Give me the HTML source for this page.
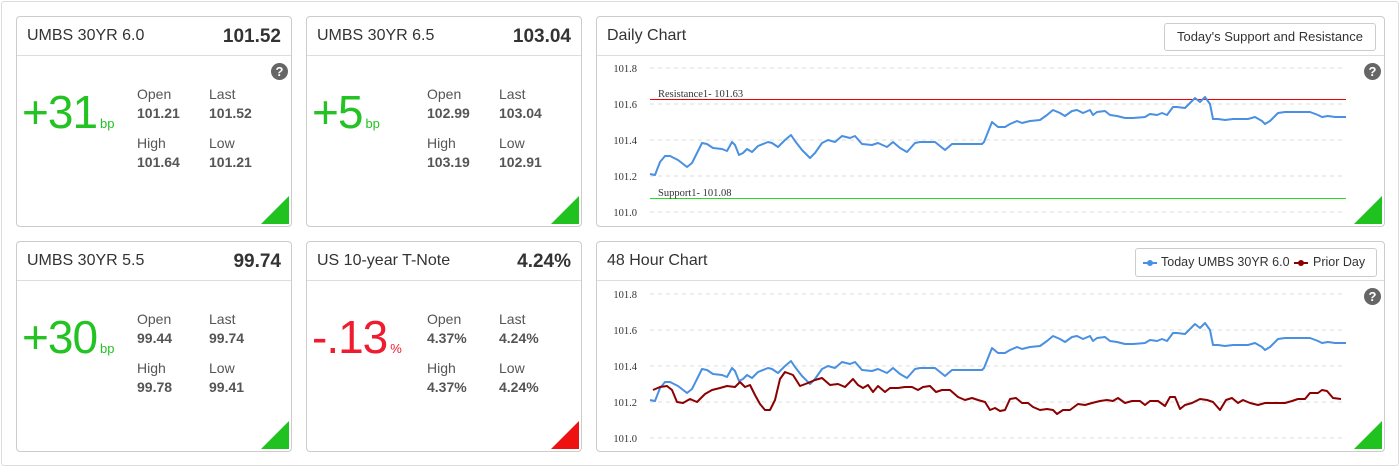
<!DOCTYPE html>
<html><head><meta charset="utf-8"><style>
body{margin:0;width:1400px;height:467px;background:#fff;font-family:"Liberation Sans",sans-serif;position:relative;overflow:hidden}
.outer{position:absolute;left:1px;top:1px;width:1396px;height:463px;border:1px solid #ddd;border-radius:3px}
.card{position:absolute;border:1px solid #ccc;border-radius:4px;background:#fff;overflow:hidden}
.hd{position:absolute;left:0;right:0;top:0;height:38px;border-bottom:1px solid #ddd}
.t{position:absolute;left:10px;top:10px;font-size:16px;color:#333}
.v{position:absolute;right:10px;top:9px;font-size:19px;font-weight:bold;color:#333}
.q{position:absolute;width:17px;height:17px;border-radius:50%;background:#666;color:#fff;font-size:13px;font-weight:bold;text-align:center;line-height:17px}
.tri{position:absolute;right:2px;bottom:2px;width:0;height:0;border-left:28px solid transparent;border-bottom:28px solid #1fc21f}
.big{position:absolute;left:5px;top:68px;font-size:46px;color:#22c322;letter-spacing:-1px}
.big small{font-size:13px;letter-spacing:0;margin-left:3px}
.lb{position:absolute;font-size:14px;color:#555}
.nv{position:absolute;font-size:14px;color:#555;font-weight:bold}
</style></head><body>
<div class="outer"></div>

<div class="card" style="left:16px;top:16px;width:274px;height:209px">
<div class="hd"><span class="t">UMBS 30YR 6.0</span><span class="v">101.52</span></div>
<div class="q" style="left:254px;top:46px">?</div>
<div class="big">+31<small>bp</small></div>
<div class="lb" style="left:120px;top:69px">Open</div><div class="nv" style="left:120px;top:88px">101.21</div>
<div class="lb" style="left:192px;top:69px">Last</div><div class="nv" style="left:192px;top:88px">101.52</div>
<div class="lb" style="left:120px;top:118px">High</div><div class="nv" style="left:120px;top:137px">101.64</div>
<div class="lb" style="left:192px;top:118px">Low</div><div class="nv" style="left:192px;top:137px">101.21</div>
<div class="tri"></div></div>

<div class="card" style="left:306px;top:16px;width:274px;height:209px">
<div class="hd"><span class="t">UMBS 30YR 6.5</span><span class="v">103.04</span></div>
<div class="big">+5<small>bp</small></div>
<div class="lb" style="left:120px;top:69px">Open</div><div class="nv" style="left:120px;top:88px">102.99</div>
<div class="lb" style="left:192px;top:69px">Last</div><div class="nv" style="left:192px;top:88px">103.04</div>
<div class="lb" style="left:120px;top:118px">High</div><div class="nv" style="left:120px;top:137px">103.19</div>
<div class="lb" style="left:192px;top:118px">Low</div><div class="nv" style="left:192px;top:137px">102.91</div>
<div class="tri"></div></div>

<div class="card" style="left:16px;top:241px;width:274px;height:209px">
<div class="hd"><span class="t">UMBS 30YR 5.5</span><span class="v">99.74</span></div>
<div class="big">+30<small>bp</small></div>
<div class="lb" style="left:120px;top:69px">Open</div><div class="nv" style="left:120px;top:88px">99.44</div>
<div class="lb" style="left:192px;top:69px">Last</div><div class="nv" style="left:192px;top:88px">99.74</div>
<div class="lb" style="left:120px;top:118px">High</div><div class="nv" style="left:120px;top:137px">99.78</div>
<div class="lb" style="left:192px;top:118px">Low</div><div class="nv" style="left:192px;top:137px">99.41</div>
<div class="tri"></div></div>

<div class="card" style="left:306px;top:241px;width:274px;height:209px">
<div class="hd"><span class="t">US 10-year T-Note</span><span class="v">4.24%</span></div>
<div class="big" style="color:#ee1c2e">-.13<small>%</small></div>
<div class="lb" style="left:120px;top:69px">Open</div><div class="nv" style="left:120px;top:88px">4.37%</div>
<div class="lb" style="left:192px;top:69px">Last</div><div class="nv" style="left:192px;top:88px">4.24%</div>
<div class="lb" style="left:120px;top:118px">High</div><div class="nv" style="left:120px;top:137px">4.37%</div>
<div class="lb" style="left:192px;top:118px">Low</div><div class="nv" style="left:192px;top:137px">4.24%</div>
<div class="tri" style="border-bottom-color:#ee1111"></div></div>

<div class="card" style="left:596px;top:16px;width:787px;height:209px">
<div class="hd"><span class="t" style="font-size:16px">Daily Chart</span>
<div style="position:absolute;left:567px;top:6px;width:210px;height:26px;border:1px solid #ccc;border-radius:3px;font-size:13px;color:#333;text-align:center;line-height:26px">Today's Support and Resistance</div></div>
<div class="q" style="left:767px;top:46px">?</div>
<div class="tri"></div></div>

<div class="card" style="left:596px;top:241px;width:787px;height:209px">
<div class="hd"><span class="t" style="font-size:16px">48 Hour Chart</span>
<div style="position:absolute;left:538px;top:6px;width:240px;height:27px;border:1px solid #ccc;border-radius:3px;font-size:12.5px;color:#333;line-height:27px">
<span style="position:absolute;left:7px;top:13px;width:14px;height:2px;background:#4a90e2"></span><span style="position:absolute;left:11px;top:11px;width:6px;height:6px;border-radius:50%;background:#4a90e2"></span>
<span style="position:absolute;left:25px">Today UMBS 30YR 6.0</span>
<span style="position:absolute;left:158px;top:13px;width:14px;height:2px;background:#8b0000"></span><span style="position:absolute;left:162px;top:11px;width:6px;height:6px;border-radius:50%;background:#8b0000"></span>
<span style="position:absolute;left:177px">Prior Day</span></div></div>
<div class="q" style="left:767px;top:46px">?</div>
<div class="tri"></div></div>

<svg width="1400" height="467" style="position:absolute;left:0;top:0" font-family="Liberation Serif,serif" font-size="10.5" fill="#333">
<defs>
<polyline id="blue" fill="none" stroke="#4a90e2" stroke-width="2" stroke-linejoin="round" points="650,174 655,175 660,162 665,156 670,156 678,160 687,167 692,163 697,153 702,143 707,144 713,148 722,149 727,151 732,142 735,145 739,155 743,153 747,149 752,152 758,146 768,142 772,143 778,147 785,140 791,135 795,141 802,150 810,158 815,153 822,143 828,140 835,142 842,136 850,138 855,136 862,144 872,145 878,143 887,147 893,142 900,148 907,152 915,143 920,142 935,142 945,150 952,144 982,144 984,142 992,122 998,127 1005,127 1010,124 1017,121 1022,123 1030,121 1040,120 1047,115 1053,110 1060,113 1065,116 1072,111 1077,110 1083,113 1090,110 1093,115 1097,112 1105,111 1110,115 1117,116 1125,118 1133,118 1145,117 1150,114 1157,115 1162,113 1167,115 1173,107 1177,107 1185,108 1195,98 1200,102 1205,97 1210,104 1213,119 1218,119 1225,120 1233,119 1248,119 1255,117 1262,121 1265,124 1270,121 1278,113 1285,112 1310,112 1318,115 1322,117 1328,116 1335,117 1346,117"/>
</defs>
<g stroke="#ddd" stroke-dasharray="4,4">
<line x1="650" x2="1346" y1="68" y2="68"/><line x1="650" x2="1346" y1="104" y2="104"/><line x1="650" x2="1346" y1="140" y2="140"/><line x1="650" x2="1346" y1="176" y2="176"/><line x1="650" x2="1346" y1="212" y2="212"/>
<line x1="650" x2="1346" y1="294" y2="294"/><line x1="650" x2="1346" y1="330" y2="330"/><line x1="650" x2="1346" y1="366" y2="366"/><line x1="650" x2="1346" y1="402" y2="402"/><line x1="650" x2="1346" y1="438" y2="438"/>
</g>
<g text-anchor="end">
<text x="637" y="72">101.8</text><text x="637" y="108">101.6</text><text x="637" y="144">101.4</text><text x="637" y="180">101.2</text><text x="637" y="216">101.0</text>
<text x="637" y="298">101.8</text><text x="637" y="334">101.6</text><text x="637" y="370">101.4</text><text x="637" y="406">101.2</text><text x="637" y="442">101.0</text>
</g>
<line x1="650" x2="1346" y1="99.5" y2="99.5" stroke="#e00" stroke-width="1"/>
<text x="658" y="97">Resistance1- 101.63</text>
<line x1="650" x2="1346" y1="198.5" y2="198.5" stroke="#2d2" stroke-width="1"/>
<text x="658" y="196">Support1- 101.08</text>
<use href="#blue"/>
<use href="#blue" transform="translate(0,226)"/>
<polyline fill="none" stroke="#8b0000" stroke-width="2" stroke-linejoin="round" points="653,390 660,387 667,386 672,390 677,402 683,403 690,399 697,402 705,394 712,390 720,388 727,386 735,387 740,382 745,387 750,385 755,395 760,404 765,410 770,410 775,400 780,379 785,372 793,375 800,386 808,383 815,380 822,378 830,385 838,384 845,387 853,379 858,385 863,388 868,385 873,392 878,386 885,392 890,388 898,388 905,387 912,387 918,390 923,387 930,386 936,392 942,390 950,390 958,397 965,400 972,398 978,400 985,402 990,410 995,408 1000,411 1005,410 1010,399 1016,398 1022,403 1028,403 1033,407 1040,410 1047,409 1053,410 1057,414 1063,410 1070,410 1078,404 1085,405 1092,403 1100,401 1107,400 1113,401 1118,398 1125,403 1132,401 1140,401 1145,405 1150,401 1158,401 1165,406 1170,397 1175,397 1180,409 1185,405 1192,403 1200,399 1207,400 1213,402 1220,410 1226,400 1232,398 1238,403 1243,400 1250,403 1258,405 1265,403 1270,403 1285,403 1292,401 1298,399 1305,399 1310,393 1318,393 1322,390 1327,391 1333,398 1341,399"/>
</svg>
</body></html>
